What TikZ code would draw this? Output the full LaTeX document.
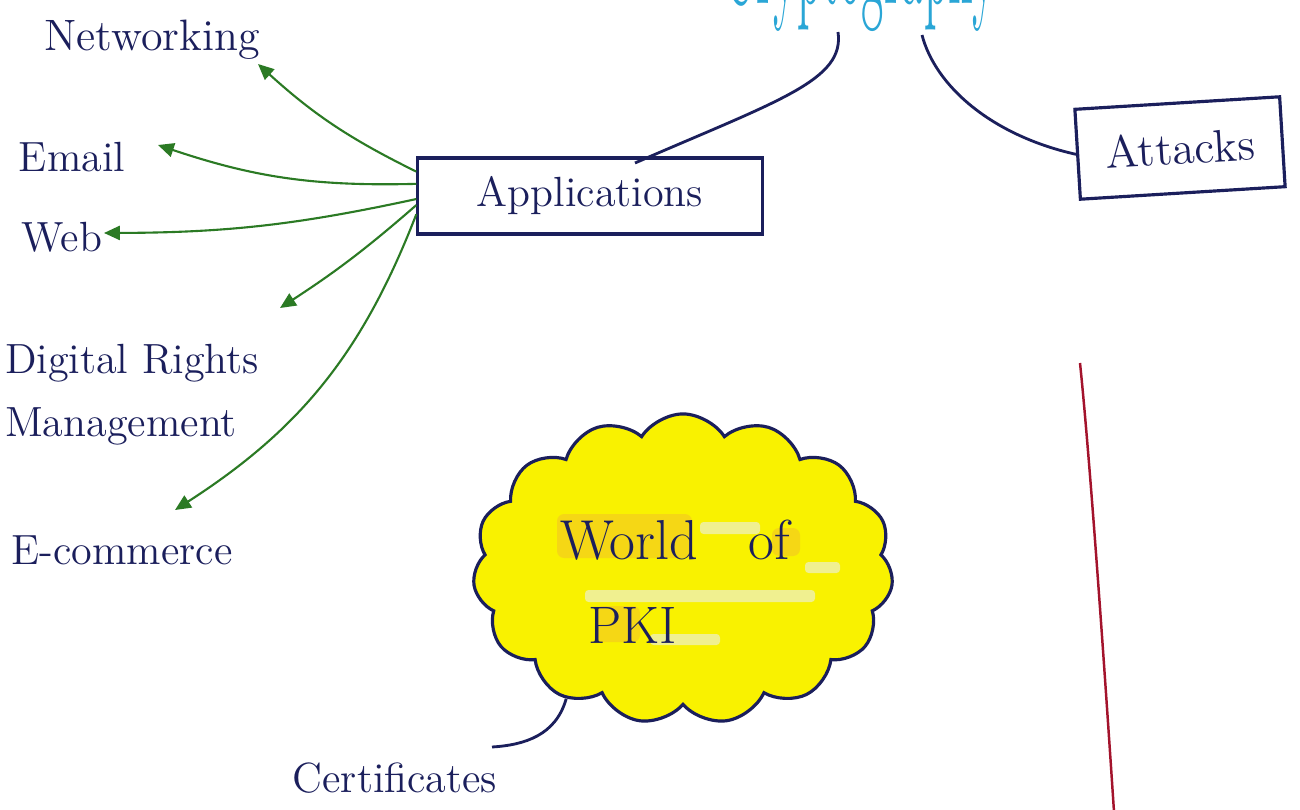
\documentclass[tikz,border=0pt]{standalone}
\usepackage{fontspec}
\usetikzlibrary{arrows.meta,shapes.symbols}
\definecolor{ink}{HTML}{1B1F5C}
\definecolor{leaf}{HTML}{2B7A24}
\definecolor{sky}{HTML}{2AA6D6}
\definecolor{marker}{HTML}{F9F200}
\definecolor{amber}{HTML}{F2BE2A}
\definecolor{redpen}{HTML}{A3132C}
\definecolor{haze}{HTML}{EAF0F0}
\begin{document}
\begin{tikzpicture}[x=0.01cm,y=-0.01cm,
  hand/.style={font=\fontsize{12}{18}\selectfont, text=ink, inner sep=0pt},
  pen/.style={draw=ink, line width=0.9pt},
  branch/.style={draw=leaf, line width=0.6pt, -{Triangle[length=4.5pt,width=4pt]}},
  boxed/.style={pen, hand, rectangle},
]
\useasboundingbox (0,0) rectangle (1300,809);
\fill[white] (0,0) rectangle (1300,809);

% title at the top edge, only its lowest strokes fall on the page
\begin{scope}
  \clip (0,0) rectangle (1300,809);
  \node[font=\fontsize{13}{16}\selectfont, text=sky, anchor=base, inner sep=0pt] (crypto) at (860,3) {\scalebox{1}[3]{Cryptography}};
\end{scope}

% boxes
\node[boxed, minimum width=3.44cm, minimum height=0.76cm] (apps) at (590,196) {Applications};
\node[boxed, minimum width=2.05cm, minimum height=0.9cm, rotate=3.5, font=\fontsize{13}{18}\selectfont] (attacks) at (1180,148) {Attacks};

% application areas
\node[hand, font=\fontsize{12.5}{18}\selectfont] (net) at (152,40) {Networking};
\node[hand] (email) at (72,157) {Email};
\node[hand] (web) at (62,237) {Web};
\node[hand, align=left] (drm) at (132,395) {Digital Rights\\Management};
\node[hand] (ecom) at (122,550) {E-commerce};

% the PKI cloud
\node[cloud, cloud puffs=15, cloud puff arc=115, draw=ink, line width=0.9pt, fill=marker,
      minimum width=4.2cm, minimum height=3.1cm] (pki) at (683,569) {};
\begin{scope}[opacity=0.5]
  \fill[amber, rounded corners=2pt] (557,514) rectangle (692,558);
  \fill[amber, rounded corners=2pt] (772,528) rectangle (800,556);
  \fill[amber, rounded corners=2pt] (596,606) rectangle (640,642);
\end{scope}
\begin{scope}[opacity=0.6]
  \fill[haze, rounded corners=1pt] (585,590) rectangle (815,602);
  \fill[haze, rounded corners=1pt] (700,522) rectangle (760,534);
  \fill[haze, rounded corners=1pt] (650,634) rectangle (720,645);
  \fill[haze, rounded corners=1pt] (805,562) rectangle (840,573);
\end{scope}
\node[hand, font=\fontsize{16}{18}\selectfont] (world) at (675,540) {World\hspace{0.9em}of};
\node[hand, font=\fontsize{15}{18}\selectfont] (pkitext) at (633,625) {PKI};

\node[hand] (cert) at (395,778) {Certificates};

% connectors from the title
\draw[pen, line width=0.8pt] ([shift={(-22,29)}]crypto.base) .. controls (845,80) and (780,100) .. ([shift={(45,-33)}]apps.center);
\draw[pen, line width=0.8pt] ([shift={(62,32)}]crypto.base) .. controls (935,85) and (990,135) .. (attacks.west);

% green arrows from Applications
\draw[branch] (apps.172) to[bend left=8] ([shift={(106,24)}]net.center);
\draw[branch] (apps.176) to[bend left=10] ([shift={(86,-12)}]email.center);
\draw[branch] (apps.181) to[bend left=6] ([shift={(42,-4)}]web.center);
\draw[branch] (apps.183) to[bend left=4] ([shift={(148,-87)}]drm.center);
\draw[branch] (apps.186) to[bend left=18] ([shift={(53,-40)}]ecom.center);

% certificate pointer
\draw[pen, line width=0.8pt] (pki.228) .. controls (556,735) and (525,745) .. ([shift={(97,-31)}]cert.center);

% red margin line
\draw[redpen, line width=0.7pt] (1080,363) .. controls (1088,440) and (1100,600) .. (1114,812);
\end{tikzpicture}
\end{document}
